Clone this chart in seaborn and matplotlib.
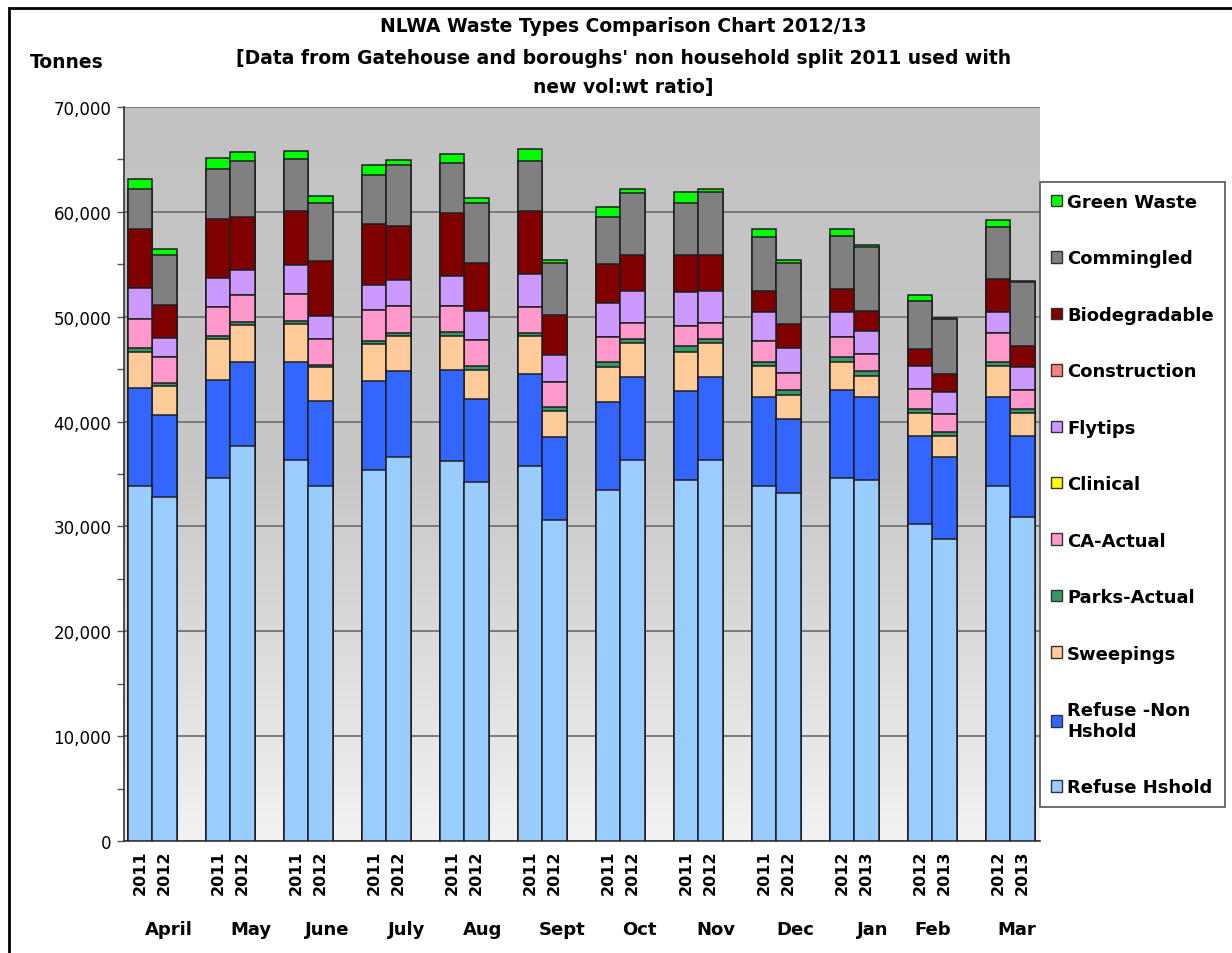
import numpy as np
import pandas as pd
import matplotlib
matplotlib.use("Agg")
import matplotlib.pyplot as plt
import seaborn as sns
from matplotlib.colors import LinearSegmentedColormap
from matplotlib.patches import Patch, Rectangle
from matplotlib.ticker import FuncFormatter, MultipleLocator

# Months and the year shown under each of the two bars per month
months = ['April', 'May', 'June', 'July', 'Aug', 'Sept', 'Oct', 'Nov', 'Dec', 'Jan', 'Feb', 'Mar']
year_labels = ['2011', '2012'] * 9 + ['2012', '2013'] * 3

# Tonnes per waste type, two bars per month
refuse_hshold = [33900, 32810, 34620, 37670, 36340, 33860, 35380, 36620, 36240, 34240, 35760, 30610,
                 33480, 36340, 34430, 36340, 33860, 33190, 34620, 34430, 30230, 28800, 33860, 30900]
refuse_non_hshold = [9300, 7820, 9350, 8010, 9340, 8100, 8490, 8200, 8680, 7910, 8780, 7920,
                     8390, 7910, 8490, 7910, 8480, 7060, 8390, 7910, 8390, 7820, 8480, 7720]
sweepings = [3440, 2760, 3910, 3530, 3630, 3250, 3530, 3340, 3240, 2770, 3620, 2480,
             3340, 3240, 3720, 3240, 2960, 2280, 2670, 2010, 2200, 2000, 2960, 2200]
parks_actual = [360, 290, 280, 290, 280, 190, 290, 290, 380, 380, 290, 380,
                470, 390, 570, 390, 380, 480, 480, 470, 380, 390, 380, 380]
ca_actual = [2780, 2480, 2770, 2570, 2580, 2480, 2950, 2570, 2480, 2480, 2480, 2380,
             2390, 1520, 1910, 1520, 2000, 1620, 1910, 1630, 1910, 1710, 2770, 1810]
clinical = [0] * 24
flytips = [2960, 1810, 2760, 2380, 2760, 2190, 2390, 2480, 2860, 2760, 3140, 2580,
           3240, 3050, 3240, 3050, 2770, 2390, 2380, 2190, 2190, 2100, 2000, 2200]
construction = [0] * 24
biodegradable = [5630, 3150, 5630, 5060, 5150, 5240, 5810, 5150, 6010, 4580, 6010, 3810,
                 3720, 3440, 3530, 3440, 2000, 2290, 2190, 1900, 1620, 1720, 3150, 2000]
commingled = [3810, 4770, 4770, 5340, 4960, 5540, 4680, 5820, 4770, 5730, 4770, 4960,
              4480, 5910, 4960, 5960, 5150, 5810, 5060, 6110, 4580, 5240, 4960, 6100]
green_waste = [950, 570, 1050, 860, 760, 660, 950, 480, 860, 470, 1150, 290,
               950, 380, 1050, 330, 770, 290, 670, 190, 570, 70, 660, 70]

# Stack order, bottom to top
layers = [
    ('Refuse Hshold', refuse_hshold, '#99ccff'),
    ('Refuse -Non\nHshold', refuse_non_hshold, '#3366ff'),
    ('Sweepings', sweepings, '#ffcc99'),
    ('Parks-Actual', parks_actual, '#339966'),
    ('CA-Actual', ca_actual, '#ff99cc'),
    ('Clinical', clinical, '#ffff00'),
    ('Flytips', flytips, '#cc99ff'),
    ('Construction', construction, '#ff8080'),
    ('Biodegradable', biodegradable, '#800000'),
    ('Commingled', commingled, '#808080'),
    ('Green Waste', green_waste, '#00ff00'),
]

df = pd.DataFrame({name: vals for name, vals, _ in layers})
cum = df.cumsum(axis=1)
cum['month'] = np.repeat(months, 2)
cum['slot'] = ['first', 'second'] * 12

sns.set_style('white')
plt.rcParams['font.family'] = ['DejaVu Sans']
plt.rcParams['text.color'] = 'black'
plt.rcParams['xtick.color'] = 'black'
plt.rcParams['ytick.color'] = 'black'

fig = plt.figure(figsize=(12.32, 9.54), dpi=100)
ax = fig.add_axes([124 / 1232, 1 - 842 / 954, (1040 - 124) / 1232, (842 - 108) / 954])

# Grey gradient plot area
xlo, xhi = -0.36, 11.38
bg = LinearSegmentedColormap.from_list('bg', ['#c2c2c2', '#c8c8c8', '#f2f2f2'])
ax.imshow(np.linspace(0, 1, 256)[:, None], extent=(xlo, xhi, 0, 70000), aspect='auto',
          cmap=bg, zorder=0)

# Stacked bars: draw cumulative totals from top layer down
bar_width = 0.63
for name, _, color in reversed(layers):
    sns.barplot(data=cum, x='month', y=name, hue='slot', order=months,
                hue_order=['first', 'second'], palette=[color, color], saturation=1,
                width=bar_width, gap=0, edgecolor='#1e1e1e', linewidth=1.1,
                errorbar=None, legend=False, ax=ax, zorder=3)

ax.set_xlim(xlo, xhi)
ax.set_ylim(0, 70000)
ax.set_xlabel('')
ax.set_ylabel('')

# Y axis
ax.yaxis.set_major_locator(MultipleLocator(10000))
ax.yaxis.set_minor_locator(MultipleLocator(5000))
ax.yaxis.set_major_formatter(FuncFormatter(lambda v, p: f'{int(v):,}'))
ax.tick_params(axis='y', which='both', left=True, direction='out', length=5,
               width=1, color='#555555', labelcolor='black', labelsize=12, pad=4)
ax.yaxis.grid(True, color='#7a7a7a', linewidth=1.4)
ax.set_axisbelow(True)
for gl in ax.get_ygridlines():
    gl.set_zorder(1)

# X axis: year under each bar, month name below the pair
pos = [i + s * bar_width / 4 for i in range(12) for s in (-1, 1)]
ax.set_xticks(pos)
ax.set_xticklabels(year_labels, rotation=90, fontweight='bold', fontsize=11.5, color='black')
ax.tick_params(axis='x', length=0, pad=6)
month_shift = [0.22, 0.27, 0.24, 0.26, 0.24, 0.26, 0.24, 0.23, 0.24, 0.23, 0.0, 0.08]
for i, m in enumerate(months):
    ax.text(i + month_shift[i], -0.12, m, transform=ax.get_xaxis_transform(),
            ha='center', va='center', fontweight='bold', fontsize=13, color='black')

for side in ['top', 'right']:
    ax.spines[side].set_visible(False)
ax.spines['left'].set_color('#333333')
ax.spines['bottom'].set_color('#333333')
ax.spines['left'].set_linewidth(1.2)
ax.spines['bottom'].set_linewidth(1.2)

# Titles
title_kw = dict(ha='center', va='center', fontweight='bold', fontsize=13.5, color='black')
fig.text(0.506, 1 - 26 / 954, 'NLWA Waste Types Comparison Chart 2012/13', **title_kw)
fig.text(0.506, 1 - 58 / 954,
         "[Data from Gatehouse and boroughs' non household split 2011 used with", **title_kw)
fig.text(0.506, 1 - 88 / 954, 'new vol:wt ratio]', **title_kw)
fig.text(30 / 1232, 1 - 62 / 954, 'Tonnes', ha='left', va='center',
         fontweight='bold', fontsize=13.5, color='black')

# Legend, top layer first
handles = [Patch(facecolor=c, edgecolor='#333333', linewidth=1, label=n)
           for n, _, c in reversed(layers)]
leg = fig.legend(handles=handles, loc='upper left',
                 bbox_to_anchor=(1040 / 1232, 1 - 183 / 954), frameon=True,
                 fancybox=False, edgecolor='#555555', framealpha=1,
                 prop={'weight': 'bold', 'size': 13}, labelspacing=2.13,
                 handlelength=0.6, handleheight=0.6, handletextpad=0.3,
                 borderpad=0.6, borderaxespad=0)
leg.get_frame().set_linewidth(1.2)
for t in leg.get_texts():
    t.set_color('black')

# Outer frame of the picture
fig.patches.append(Rectangle((9 / 1232, -0.02), 1.02, 1 - 9 / 954 + 0.02,
                             transform=fig.transFigure, fill=False,
                             edgecolor='black', linewidth=2))

fig.savefig('out.png', dpi=100)
